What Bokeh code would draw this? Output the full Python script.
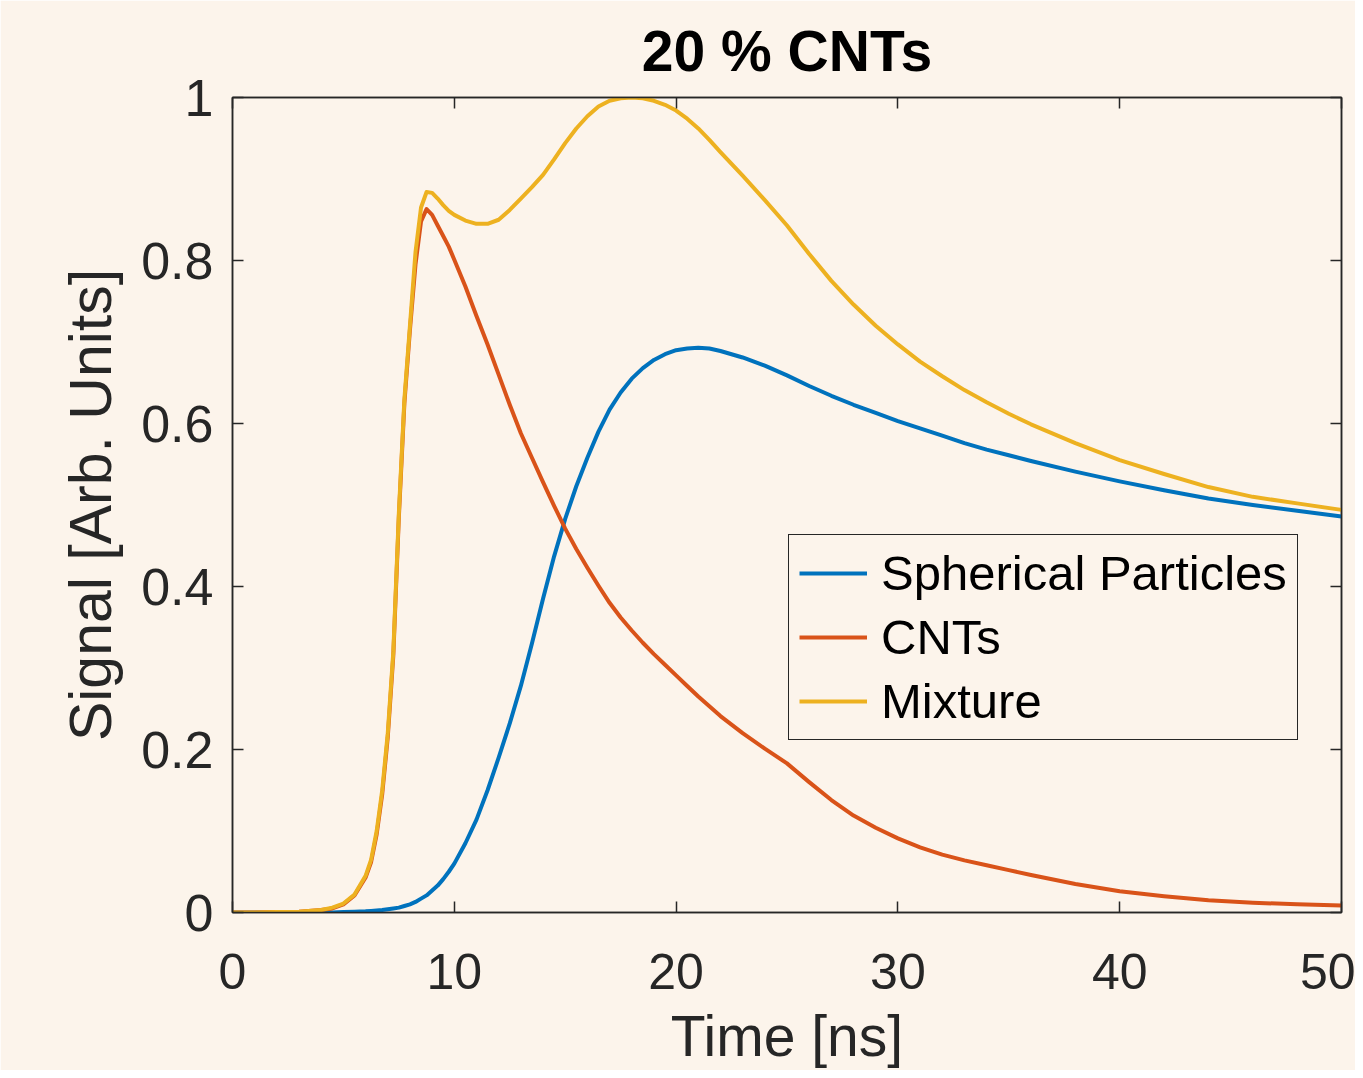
from bokeh.plotting import figure
from bokeh.models import Range1d, FixedTicker, LinearAxis, Legend, LegendItem
from bokeh.embed import file_html
from bokeh.resources import INLINE

# ---------------- data ----------------
time_ns = [0, 1, 2, 3, 4, 4.5, 5, 5.5, 6, 6.25, 6.5, 6.75, 7, 7.25, 7.5, 7.75, 8, 8.25,
           8.5, 8.75, 9, 9.25, 9.5, 9.75, 10, 10.5, 11, 11.5, 12, 12.5, 13, 13.5, 14,
           14.5, 15, 15.5, 16, 16.5, 17, 17.5, 18, 18.5, 19, 19.5, 20, 20.5, 21, 21.5,
           22, 23, 24, 25, 26, 27, 28, 29, 30, 31, 32, 33, 34, 35, 36, 38, 40, 42, 44,
           46, 48, 50]

spherical = [0, 0, 0, 0, 0, 0, 0.0005, 0.001, 0.0015, 0.002, 0.0025, 0.003, 0.004, 0.005,
             0.006, 0.008, 0.01, 0.013, 0.017, 0.021, 0.027, 0.033, 0.041, 0.05, 0.06,
             0.085, 0.114, 0.15, 0.19, 0.232, 0.278, 0.33, 0.385, 0.437, 0.483, 0.523,
             0.558, 0.59, 0.617, 0.638, 0.655, 0.668, 0.678, 0.685, 0.69, 0.692, 0.693,
             0.692, 0.689, 0.681, 0.671, 0.659, 0.646, 0.634, 0.623, 0.613, 0.603, 0.594,
             0.585, 0.576, 0.568, 0.561, 0.554, 0.541, 0.529, 0.518, 0.508, 0.5, 0.493,
             0.486]

cnts = [0, 0, 0.0005, 0.001, 0.003, 0.005, 0.01, 0.021, 0.043, 0.062, 0.096, 0.145, 0.215,
        0.315, 0.485, 0.625, 0.715, 0.795, 0.848, 0.863, 0.856, 0.843, 0.83, 0.817, 0.801,
        0.768, 0.732, 0.697, 0.66, 0.623, 0.588, 0.558, 0.528, 0.499, 0.471, 0.446, 0.423,
        0.401, 0.38, 0.362, 0.346, 0.331, 0.317, 0.304, 0.291, 0.278, 0.265, 0.253, 0.241,
        0.22, 0.201, 0.183, 0.16, 0.138, 0.119, 0.104, 0.091, 0.08, 0.071, 0.064, 0.058,
        0.052, 0.046, 0.035, 0.026, 0.02, 0.015, 0.012, 0.01, 0.0085]

mixture = [0, 0, 0.0005, 0.001, 0.003, 0.006, 0.011, 0.022, 0.045, 0.065, 0.1, 0.15, 0.22,
           0.32, 0.49, 0.63, 0.72, 0.81, 0.865, 0.884, 0.883, 0.876, 0.868, 0.861, 0.856,
           0.849, 0.845, 0.845, 0.85, 0.862, 0.876, 0.89, 0.905, 0.924, 0.944, 0.962,
           0.977, 0.989, 0.996, 0.999, 1.0, 0.999, 0.996, 0.991, 0.984, 0.974, 0.962,
           0.948, 0.933, 0.904, 0.874, 0.843, 0.808, 0.775, 0.746, 0.72, 0.697, 0.676,
           0.658, 0.641, 0.626, 0.612, 0.599, 0.576, 0.555, 0.538, 0.522, 0.51, 0.502,
           0.494]

series_names = ["Spherical Particles", "CNTs", "Mixture"]
series_colors = ["#0072BD", "#D95319", "#EDB120"]

x_ticks = [0, 10, 20, 30, 40, 50]
y_ticks = [0, 0.2, 0.4, 0.6, 0.8, 1]
y_tick_labels = ["0", "0.2", "0.4", "0.6", "0.8", "1"]

title_text = "20 % CNTs"
x_label = "Time [ns]"
y_label = "Signal [Arb. Units]"

# ---------------- style ----------------
BG = "#FCF4EB"
AX = "#262626"
FONT = "Liberation Sans"

p = figure(width=1355, height=1070, output_backend="svg", toolbar_location=None,
           x_range=Range1d(0, 50), y_range=Range1d(0, 1),
           min_border_left=232, min_border_right=14, min_border_top=97, min_border_bottom=157,
           background_fill_color=BG, border_fill_color=BG)

p.title.text = title_text
p.title.align = "center"
p.title.text_font = FONT
p.title.text_font_size = "57px"
p.title.text_font_style = "bold"
p.title.text_color = "#000000"
p.title.standoff = 30

p.grid.visible = False
p.outline_line_color = AX
p.outline_line_width = 1.5

renderers = []
for vals, col in zip([spherical, cnts, mixture], series_colors):
    r = p.line(time_ns, vals, line_color=col, line_width=4, line_join="round")
    renderers.append(r)

def style_axis(ax, ticks, show_labels):
    ax.ticker = FixedTicker(ticks=ticks)
    ax.axis_line_color = AX
    ax.axis_line_width = 1.5
    ax.major_tick_line_color = AX
    ax.major_tick_line_width = 1.5
    ax.major_tick_in = 11
    ax.major_tick_out = 0
    ax.minor_tick_line_color = None
    ax.major_label_text_font = FONT
    ax.major_label_text_color = AX
    ax.axis_label_text_font = FONT
    ax.axis_label_text_color = AX
    ax.axis_label_text_font_style = "normal"
    if not show_labels:
        ax.major_label_overrides = {t: "" for t in ticks}
        ax.major_label_standoff = 0

xa = p.xaxis[0]
style_axis(xa, x_ticks, True)
xa.major_label_text_font_size = "50px"
xa.major_label_standoff = 41
xa.axis_label = x_label
xa.axis_label_text_font_size = "57px"
xa.axis_label_standoff = 12

ya = p.yaxis[0]
style_axis(ya, y_ticks, True)
ya.major_label_overrides = {t: s for t, s in zip(y_ticks, y_tick_labels)}
ya.major_label_text_font_size = "52px"
ya.major_label_standoff = 19
ya.axis_label = y_label
ya.axis_label_text_font_size = "59px"
ya.axis_label_standoff = 14

top = LinearAxis()
style_axis(top, x_ticks, False)
p.add_layout(top, "above")
right = LinearAxis()
style_axis(right, y_ticks, False)
p.add_layout(right, "right")

legend = Legend(items=[LegendItem(label=n, renderers=[r]) for n, r in zip(series_names, renderers)],
                location=(556, 172))
legend.background_fill_color = BG
legend.background_fill_alpha = 1
legend.border_line_color = AX
legend.border_line_alpha = 1
legend.border_line_width = 1.5
legend.label_text_font = FONT
legend.label_text_font_size = "49px"
legend.label_text_color = "#000000"
legend.glyph_width = 68
legend.glyph_height = 56
legend.label_height = 56
legend.label_standoff = 14
legend.spacing = 8
legend.padding = 10
legend.margin = 0
p.add_layout(legend, "center")

open("out.html", "w").write(file_html(p, INLINE))
